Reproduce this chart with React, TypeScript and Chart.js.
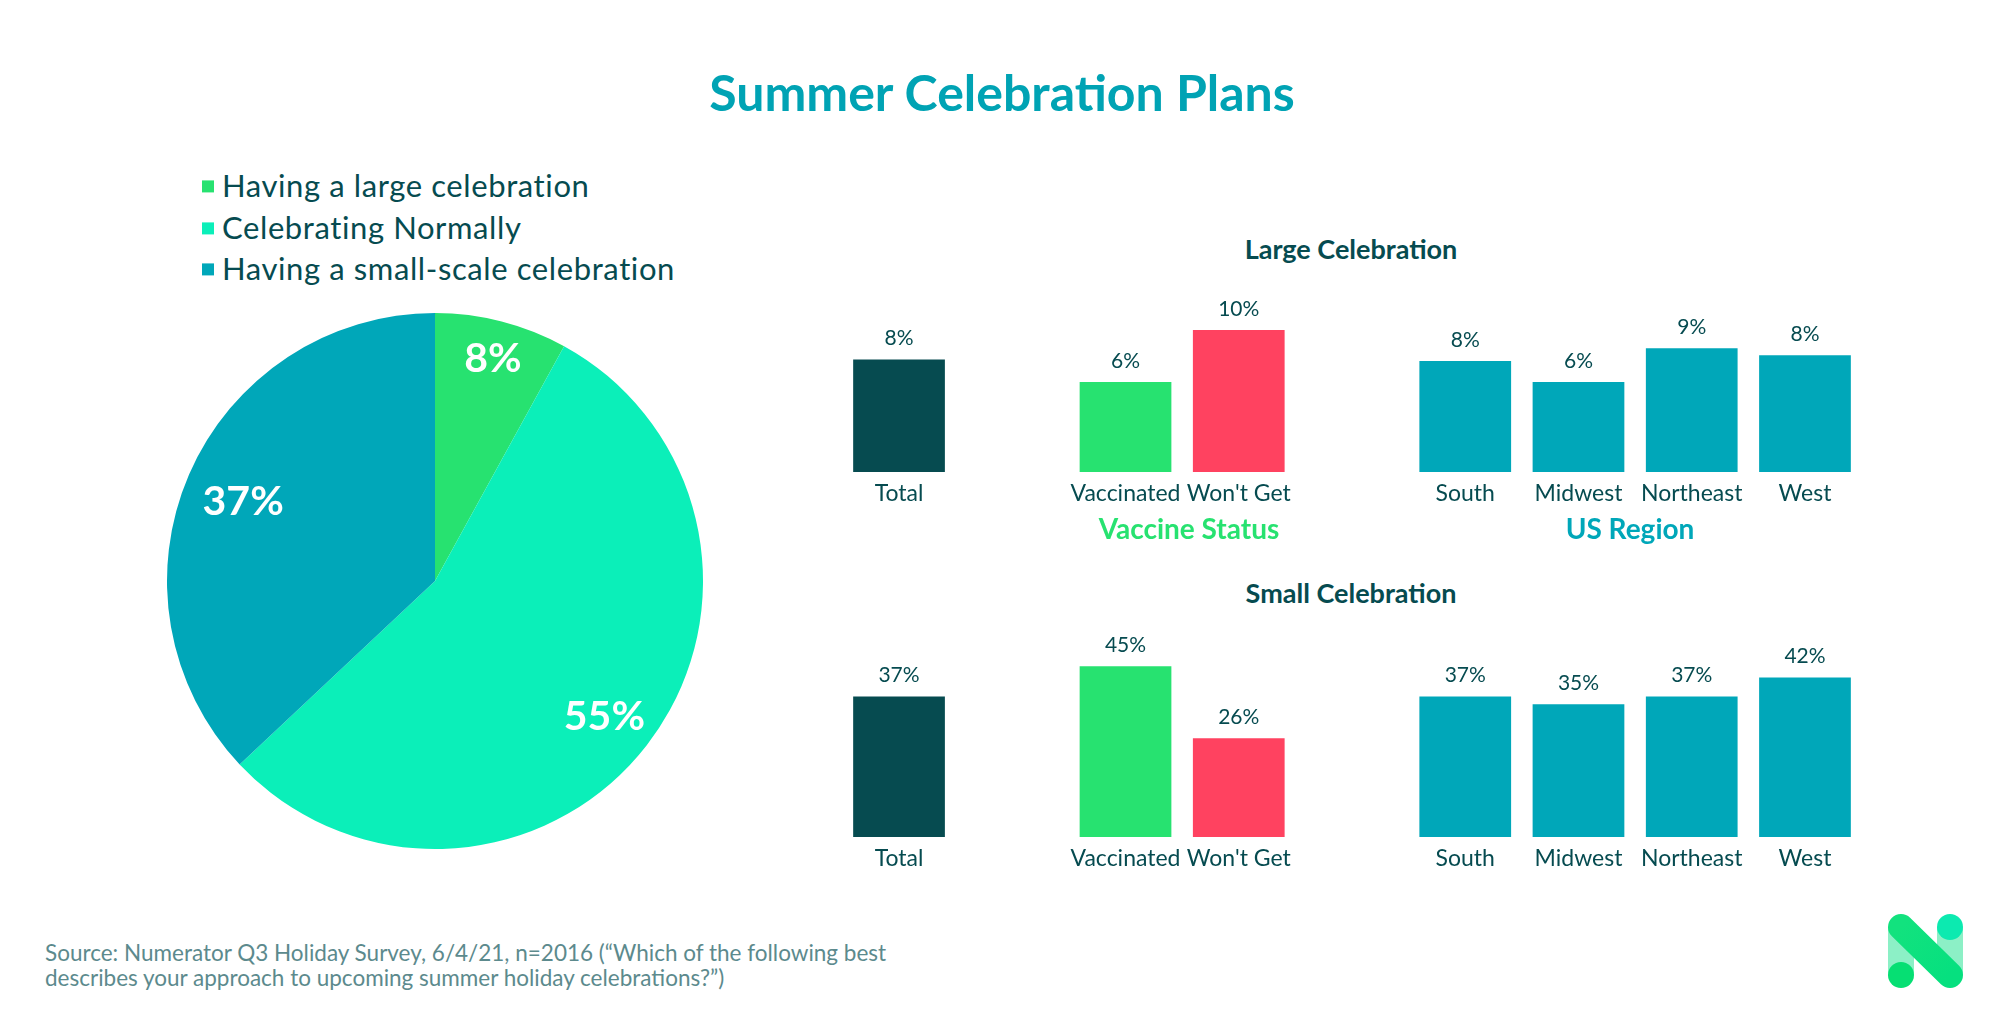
import React, { useEffect, useRef } from 'react';
import { Chart, registerables } from 'chart.js';
Chart.register(...registerables);

const FONT = 'Lato, "Noto Sans", sans-serif';
const DARK = '#064B50';
const GREEN = '#27E270';
const AQUA = '#0BEFB9';
const TEAL = '#00A7B9';
const RED = '#FF4260';
const TITLE_TEAL = '#00A3B4';
const FOOT = '#5C8A8D';

const pieLabels = ['Having a large celebration', 'Celebrating Normally', 'Having a small-scale celebration'];
const pieValues = [8, 55, 37];
const pieColors = [GREEN, AQUA, TEAL];
const pieLabelRadius = [0.87, 0.8, 0.78];

const barCategories = ['Total', '', 'Vaccinated', "Won't Get", '', 'South', 'Midwest', 'Northeast', 'West'];
const largeValues: (number | null)[] = [8, null, 6.4, 10.1, null, 7.9, 6.4, 8.8, 8.3];
const smallValues: (number | null)[] = [37, null, 45, 26, null, 37, 35, 37, 42];
const barColors = [DARK, 'rgba(0,0,0,0)', GREEN, RED, 'rgba(0,0,0,0)', TEAL, TEAL, TEAL, TEAL];

const pieLabelPlugin = {
  id: 'pieLabels',
  afterDatasetsDraw(chart: any) {
    const ctx = chart.ctx;
    const meta = chart.getDatasetMeta(0);
    ctx.save();
    ctx.fillStyle = '#ffffff';
    ctx.font = `bold 41px ${FONT}`;
    ctx.textAlign = 'center';
    ctx.textBaseline = 'middle';
    meta.data.forEach((arc: any, i: number) => {
      const mid = (arc.startAngle + arc.endAngle) / 2;
      const r = arc.outerRadius * pieLabelRadius[i];
      ctx.fillText(pieValues[i] + '%', arc.x + Math.cos(mid) * r, arc.y + Math.sin(mid) * r + 4);
    });
    ctx.restore();
  },
};

const barLabelPlugin = {
  id: 'barLabels',
  afterDatasetsDraw(chart: any) {
    const ctx = chart.ctx;
    const meta = chart.getDatasetMeta(0);
    const data = chart.data.datasets[0].data;
    ctx.save();
    ctx.fillStyle = DARK;
    ctx.font = `21px ${FONT}`;
    ctx.textAlign = 'center';
    ctx.textBaseline = 'middle';
    meta.data.forEach((bar: any, i: number) => {
      const v = data[i];
      if (v === null || v === undefined) return;
      ctx.fillText(Math.round(v) + '%', bar.x, bar.y - 21);
    });
    ctx.restore();
  },
};

function PieChart() {
  const ref = useRef<HTMLCanvasElement>(null);
  useEffect(() => {
    const chart = new Chart(ref.current as HTMLCanvasElement, {
      type: 'pie',
      data: {
        labels: pieLabels,
        datasets: [{ data: pieValues, backgroundColor: pieColors, borderWidth: 0, hoverOffset: 0 }],
      },
      options: {
        animation: false,
        responsive: false,
        layout: { padding: 12 },
        plugins: { legend: { display: false }, tooltip: { enabled: false } },
      },
      plugins: [pieLabelPlugin],
    } as any);
    return () => chart.destroy();
  }, []);
  return (
    <canvas ref={ref} width={560} height={560} style={{ position: 'absolute', left: 155, top: 301, width: 560, height: 560 }} />
  );
}

function BarChart(props: { values: (number | null)[]; max: number; top: number; height: number; padTop: number; padBottom: number }) {
  const ref = useRef<HTMLCanvasElement>(null);
  const { values, max, top, height, padTop, padBottom } = props;
  useEffect(() => {
    const chart = new Chart(ref.current as HTMLCanvasElement, {
      type: 'bar',
      data: {
        labels: barCategories,
        datasets: [{ data: values, backgroundColor: barColors, borderWidth: 0, barPercentage: 0.81, categoryPercentage: 1 }],
      },
      options: {
        animation: false,
        responsive: false,
        layout: { padding: { left: 22.4, right: 18.4, top: padTop, bottom: padBottom } },
        plugins: { legend: { display: false }, tooltip: { enabled: false } },
        scales: {
          x: {
            grid: { display: false, drawTicks: false },
            border: { display: false },
            ticks: { color: DARK, font: { family: FONT, size: 23 }, padding: 7.5, autoSkip: false, maxRotation: 0 },
          },
          y: { display: false, min: 0, max },
        },
      },
      plugins: [barLabelPlugin],
    } as any);
    return () => chart.destroy();
  }, []);
  return (
    <canvas ref={ref} width={1060} height={height} style={{ position: 'absolute', left: 820, top, width: 1060, height }} />
  );
}

function Text(props: { x: number; y: number; size: number; color: string; bold?: boolean; align?: 'center' | 'left'; children: any }) {
  const { x, y, size, color, bold, align = 'center', children } = props;
  return (
    <div
      style={{
        position: 'absolute',
        left: x,
        top: y,
        transform: align === 'center' ? 'translate(-50%, -50%)' : 'translate(0, -50%)',
        fontFamily: FONT,
        fontSize: size,
        fontWeight: bold ? 700 : 400,
        color,
        whiteSpace: 'nowrap',
        lineHeight: 1.2,
      }}
    >
      {children}
    </div>
  );
}

function Logo() {
  return (
    <svg width={75} height={74} viewBox="0 0 75 74" style={{ position: 'absolute', left: 1888, top: 914 }}>
      <defs>
        <linearGradient id="diag" x1="0" y1="0" x2="1" y2="1">
          <stop offset="0" stopColor="#12E27E" />
          <stop offset="1" stopColor="#06E07F" />
        </linearGradient>
      </defs>
      <rect x={0} y={13} width={26} height={48} fill="#8CF0C6" />
      <rect x={49} y={13} width={26} height={48} fill="#8CF0C6" />
      <circle cx={13} cy={61} r={13} fill="#06DF73" />
      <circle cx={62} cy={13} r={13} fill="#0CEAB0" />
      <line x1={13} y1={13} x2={62} y2={61} stroke="url(#diag)" strokeWidth={26} strokeLinecap="round" />
    </svg>
  );
}

export default function App() {
  return (
    <div style={{ position: 'absolute', left: 0, top: 0, width: 2002, height: 1018, background: '#ffffff', overflow: 'hidden' }}>
      <Text x={1002} y={92} size={50} color={TITLE_TEAL} bold>Summer Celebration Plans</Text>
      {pieLabels.map((l, i) => (
        <div key={l} style={{ position: 'absolute', left: 202, top: [186, 228, 269][i], transform: 'translate(0,-50%)', display: 'flex', alignItems: 'center', fontFamily: FONT, fontSize: 31, letterSpacing: 0.6, color: DARK, whiteSpace: 'nowrap', lineHeight: 1.2 }}>
          <span style={{ display: 'inline-block', width: 12, height: 12, background: pieColors[i], marginRight: 8 }} />
          <span>{l}</span>
        </div>
      ))}
      <PieChart />
      <Text x={1351} y={249} size={27} color={DARK} bold>Large Celebration</Text>
      <BarChart values={largeValues} max={12} top={270} height={247.4} padTop={33.2} padBottom={2.3} />
      <Text x={1189} y={529} size={28} color={GREEN} bold>Vaccine Status</Text>
      <Text x={1630} y={529} size={28} color={TEAL} bold>US Region</Text>
      <Text x={1351} y={593} size={27} color={DARK} bold>Small Celebration</Text>
      <BarChart values={smallValues} max={50} top={610} height={272.4} padTop={37.2} padBottom={2.3} />
      <Text x={45} y={952} size={22.5} color={FOOT} align="left">Source: Numerator Q3 Holiday Survey, 6/4/21, n=2016 (“Which of the following best</Text>
      <Text x={45} y={977} size={22.5} color={FOOT} align="left">describes your approach to upcoming summer holiday celebrations?”)</Text>
      <Logo />
    </div>
  );
}
